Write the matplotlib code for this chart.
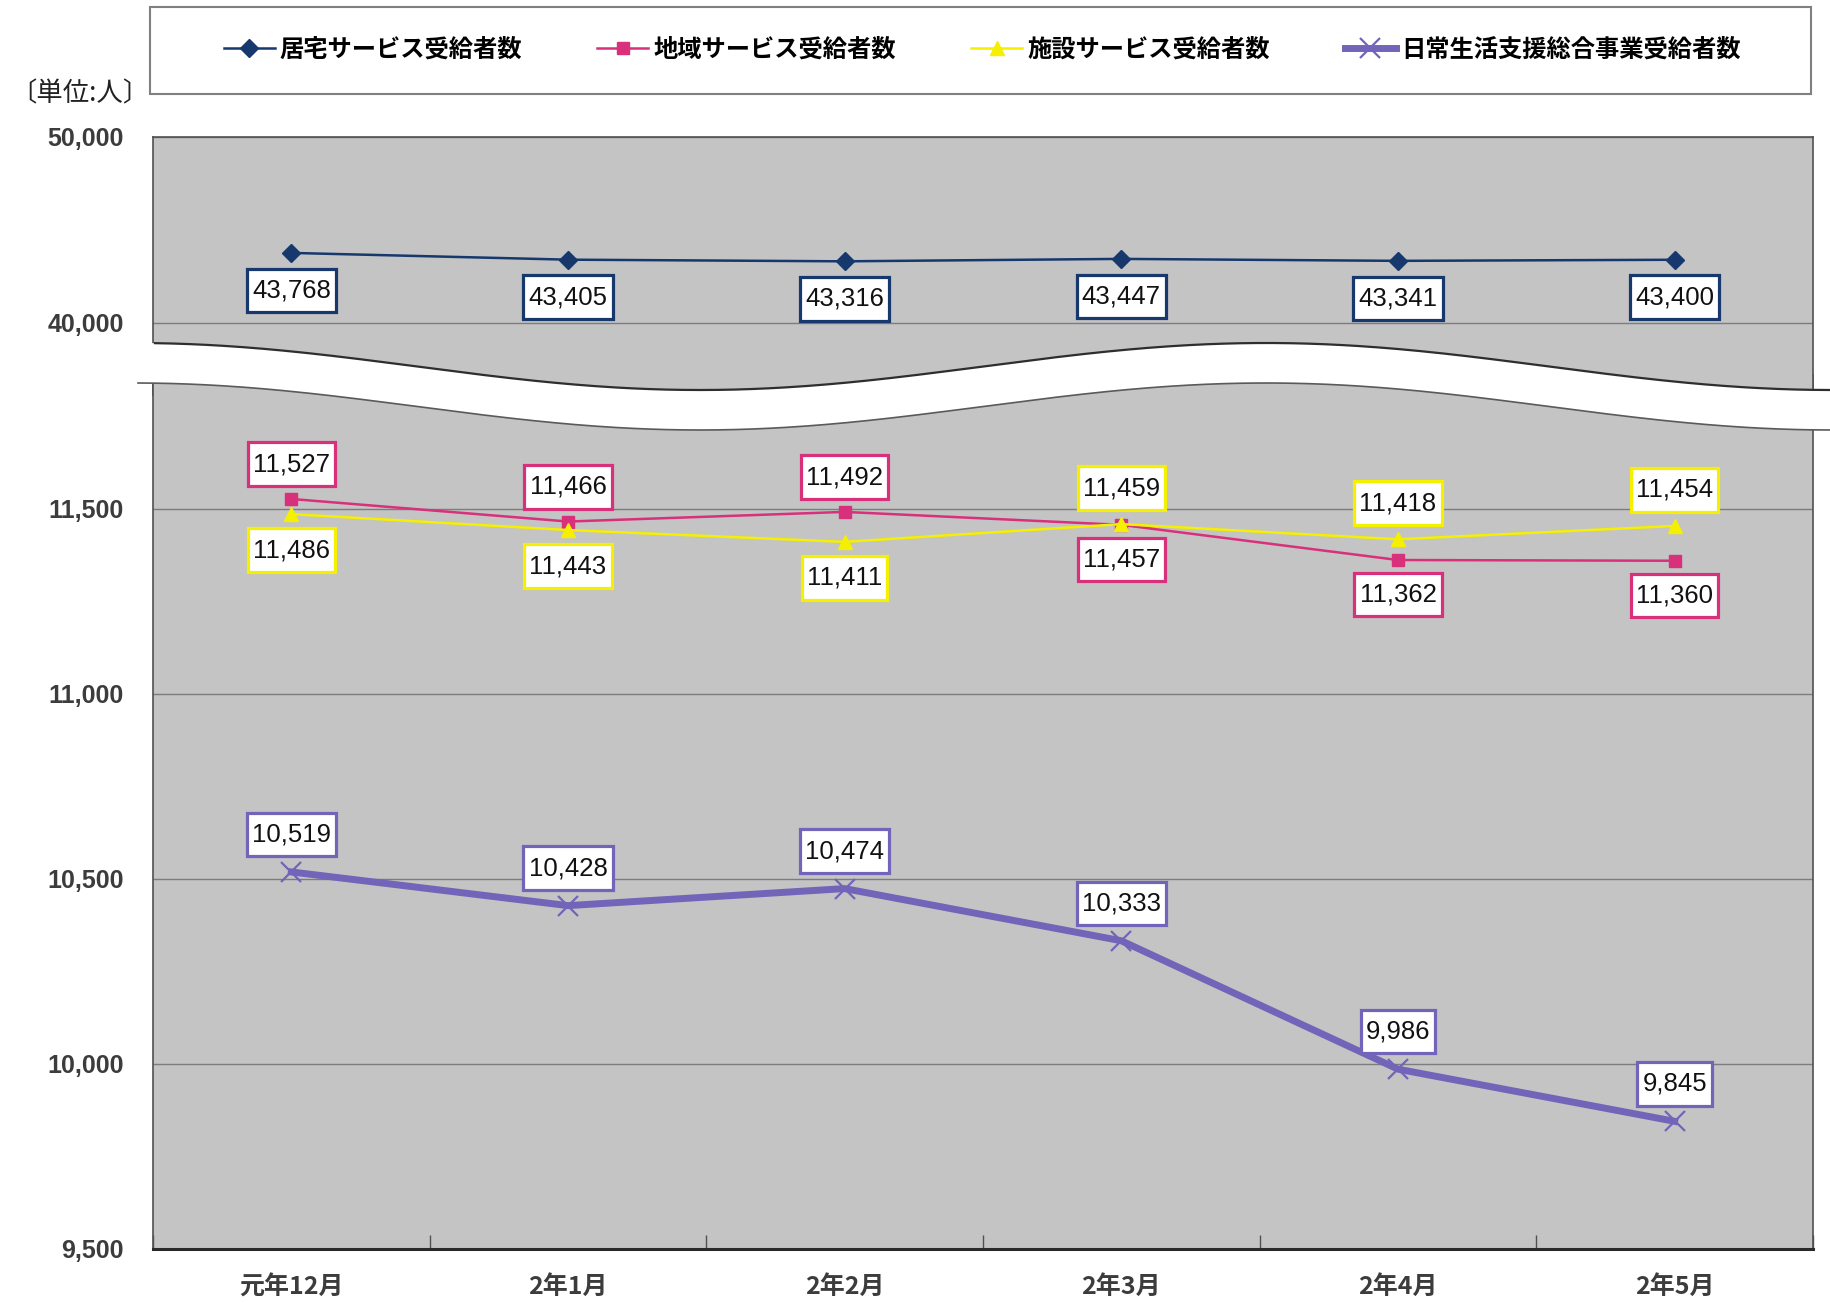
import matplotlib
matplotlib.use('Agg')
import matplotlib.pyplot as plt
import numpy as np
from matplotlib.lines import Line2D
from matplotlib.patches import Rectangle, Polygon
from matplotlib.path import Path
from matplotlib.ticker import FuncFormatter

plt.rcParams['font.family'] = ['Noto Sans CJK JP', 'DejaVu Sans']

# data
months = ['元年12月', '2年1月', '2年2月', '2年3月', '2年4月', '2年5月']
home = [43768, 43405, 43316, 43447, 43341, 43400]
community = [11527, 11466, 11492, 11457, 11362, 11360]
facility = [11486, 11443, 11411, 11459, 11418, 11454]
general = [10519, 10428, 10474, 10333, 9986, 9845]
names = ['居宅サービス受給者数', '地域サービス受給者数',
         '施設サービス受給者数', '日常生活支援総合事業受給者数']

# label side: +1 above the point, -1 below
community_side = [1, 1, 1, -1, -1, -1]
facility_side = [-1, -1, -1, 1, 1, 1]

W, H = 1830, 1303
GRAY = '#c4c4c4'
NAVY = '#16386c'
PINK = '#d8307a'
YELLOW = '#f4f000'
PURPLE = '#7264b8'
NUMFONT = ['Liberation Sans', 'DejaVu Sans']


def fx(px):
    return px / W


def fy(py):
    return 1 - py / H


def tall_box(x0, y0, width, height, mutation_size):
    # square box, more padding top/bottom than left/right
    px, py = 0.2 * mutation_size, 0.38 * mutation_size
    x1, y1 = x0 + width + px, y0 + height + py
    x0, y0 = x0 - px, y0 - py
    return Path([(x0, y0), (x1, y0), (x1, y1), (x0, y1), (x0, y0)], closed=True)


fig = plt.figure(figsize=(W / 100, H / 100), dpi=100)

ax_top = fig.add_axes([fx(153), fy(395), (1813 - 153) / W, (395 - 137) / H])
ax_bot = fig.add_axes([fx(153), fy(1249), (1813 - 153) / W, (1249 - 375) / H])

x = np.arange(len(months))
fmt = FuncFormatter(lambda v, p: f'{int(v):,}')

for ax in (ax_top, ax_bot):
    ax.set_facecolor(GRAY)
    ax.set_xlim(-0.5, 5.5)
    ax.set_axisbelow(True)
    ax.yaxis.grid(True, color='#7c7c7c', lw=1.0)
    ax.yaxis.set_major_formatter(fmt)
    ax.tick_params(axis='y', length=0, pad=21, labelsize=18, labelcolor='#3c3c3c')
    for s in ax.spines.values():
        s.set_color('#505050')
        s.set_linewidth(1.2)

ax_top.set_ylim(36129, 50000)
ax_top.set_yticks([40000, 50000])
ax_top.set_xticks([])
ax_top.spines['bottom'].set_visible(False)

ax_bot.set_ylim(9500, 11862)
ax_bot.set_yticks([9500, 10000, 10500, 11000, 11500])
ax_bot.spines['top'].set_visible(False)
ax_bot.spines['bottom'].set_color('#2a2a2a')
ax_bot.spines['bottom'].set_linewidth(2.2)
ax_bot.set_xticks(x)
ax_bot.set_xticklabels(months, fontsize=18, fontweight='bold', color='#3c3c3c')
ax_bot.set_xticks(np.arange(-0.5, 6, 1), minor=True)
ax_bot.tick_params(axis='x', which='major', length=0, pad=19)
ax_bot.tick_params(axis='x', which='minor', direction='in', length=10,
                   color='#505050', width=1)
for ax in (ax_top, ax_bot):
    for lab in ax.get_yticklabels():
        lab.set_family(['Liberation Sans', 'DejaVu Sans'])
        lab.set_fontweight('bold')

l1, = ax_top.plot(x, home, color=NAVY, lw=1.8, marker='D', ms=9,
                  label=names[0], zorder=3)
l2, = ax_bot.plot(x, community, color=PINK, lw=1.8, marker='s', ms=9,
                  label=names[1], zorder=3)
l3, = ax_bot.plot(x, facility, color=YELLOW, lw=1.8, marker='^', ms=10,
                  label=names[2], zorder=3)
l4, = ax_bot.plot(x, general, color=PURPLE, lw=5, marker='x', ms=14, mew=1.6,
                  label=names[3], zorder=3)


def tag(ax, ys, sides, offset, edge):
    for xi, yi, s in zip(x, ys, sides):
        ax.annotate(f'{yi:,}', (xi, yi), xytext=(0, s * offset),
                    textcoords='offset points', ha='center', va='center',
                    fontsize=18.5, family=NUMFONT, color='#111111',
                    bbox=dict(boxstyle=tall_box, fc='white',
                              ec=edge, lw=2.3), zorder=5)


tag(ax_top, home, [-1] * 6, 27, NAVY)
tag(ax_bot, community, community_side, 25, PINK)
tag(ax_bot, facility, facility_side, 26, YELLOW)
tag(ax_bot, general, [1] * 6, 27, PURPLE)

# axis break: white wavy band
xs = np.linspace(138, 1830, 500)
yu = 366.5 - 23.5 * np.cos(2 * np.pi * (xs - 1266) / 1132)
yl = 406.5 - 23.5 * np.cos(2 * np.pi * (xs - 1266) / 1132)
band = np.column_stack([np.r_[fx(xs), fx(xs[::-1])], np.r_[fy(yu), fy(yl[::-1])]])
fig.add_artist(Polygon(band, closed=True, fc='white', ec='none',
                       transform=fig.transFigure, zorder=3))
up = xs >= 153
fig.add_artist(Line2D(fx(xs[up]), fy(yu[up]), color='#2e2e2e', lw=1.6,
                      transform=fig.transFigure, zorder=4))
fig.add_artist(Line2D(fx(xs), fy(yl), color='#5a5a5a', lw=1.2,
                      transform=fig.transFigure, zorder=4))

# legend box
fig.add_artist(Rectangle((fx(150), fy(94)), (1811 - 150) / W, (94 - 7) / H,
                         fc='white', ec='#808080', lw=1.5,
                         transform=fig.transFigure, zorder=1))
fig.legend([l1, l2, l3, l4], names, loc='center',
           bbox_to_anchor=(fx(982), fy(50)), ncol=4, frameon=False,
           prop={'size': 17.5, 'weight': 'bold'}, handlelength=2.1,
           handletextpad=0.2, columnspacing=3.1)

fig.text(fx(10), fy(94), '〔単位:人〕', fontsize=19, va='center', ha='left',
         color='#222222')

fig.savefig('out.png', dpi=100)
